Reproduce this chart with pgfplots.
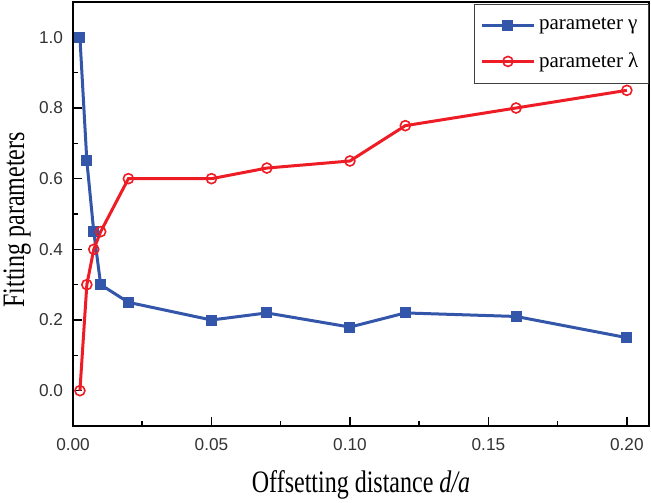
\documentclass[border=0pt]{standalone}
\usepackage{fontspec}
\setmainfont{Liberation Serif}
\setsansfont{Liberation Sans}
\usepackage{pgfplots}
\usepackage{pgfplotstable}
\pgfplotsset{compat=1.18}
\definecolor{cblue}{RGB}{51,85,170}
\definecolor{cred}{RGB}{238,28,36}
\pgfplotstableread{
x       y
0.0025  1.00
0.005   0.65
0.0075  0.45
0.01    0.30
0.02    0.25
0.05    0.20
0.07    0.22
0.10    0.18
0.12    0.22
0.16    0.21
0.20    0.15
}\gammadata
\pgfplotstableread{
x       y
0.0025  0.00
0.005   0.30
0.0075  0.40
0.01    0.45
0.02    0.60
0.05    0.60
0.07    0.63
0.10    0.65
0.12    0.75
0.16    0.80
0.20    0.85
}\lambdadata
\begin{document}
\begin{tikzpicture}
\begin{axis}[
  at={(0,0)}, anchor=south west,
  scale only axis, width=288pt, height=212pt,
  xmin=0, xmax=0.208, ymin=-0.1, ymax=1.1,
  xtick={0,0.05,0.1,0.15,0.2},
  ytick={0,0.2,0.4,0.6,0.8,1.0},
  minor x tick num=1, minor y tick num=1,
  tick align=inside, tick pos=left,
  major tick length=4.5pt, minor tick length=2.5pt,
  axis line style={line width=0.9pt},
  every tick/.style={line width=0.8pt, black},
  /pgf/number format/assume math mode=true,
  xticklabel style={font=\fontsize{8.6}{10}\sffamily, text=black!80, yshift=-2.5pt, /pgf/number format/.cd, fixed, fixed zerofill, precision=2},
  yticklabel style={font=\fontsize{8.6}{10}\sffamily, text=black!80, xshift=-1.5pt, /pgf/number format/.cd, fixed, fixed zerofill, precision=1},
  xlabel={Offsetting distance \textit{d/a}},
  ylabel={Fitting parameters},
  xlabel style={font=\fontsize{12}{14}\selectfont, at={(axis description cs:0.5,-0.158)}, anchor=base, yscale=1.3},
  ylabel style={font=\fontsize{12}{14}\selectfont, at={(axis description cs:-0.085,0.486)}, anchor=base, yscale=1.3},
  legend style={at={(1,0.995)}, anchor=north east, font=\fontsize{10.5}{12}\selectfont, draw=black!75, line width=0.6pt, inner xsep=3pt, inner ysep=4.5pt, row sep=6pt},
  legend cell align=left,
  legend image code/.code={\draw[mark repeat=2, mark phase=2] plot coordinates {(0cm,0cm) (0.45cm,0cm) (0.9cm,0cm)};},
]
\addplot[cblue, line width=1.5pt, mark=square*, mark size=2pt, mark options={solid, fill=cblue}] table[x=x, y=y] {\gammadata};
\addlegendentry{parameter γ}
\addplot[cred, line width=1.5pt, mark=o, mark size=2.5pt, mark options={solid, fill=white, line width=0.8pt}] table[x=x, y=y] {\lambdadata};
\addlegendentry{parameter λ}
\end{axis}
\pgfresetboundingbox
\useasboundingbox (-36.5pt,-38pt) rectangle (289pt,213pt);
\end{tikzpicture}
\end{document}
